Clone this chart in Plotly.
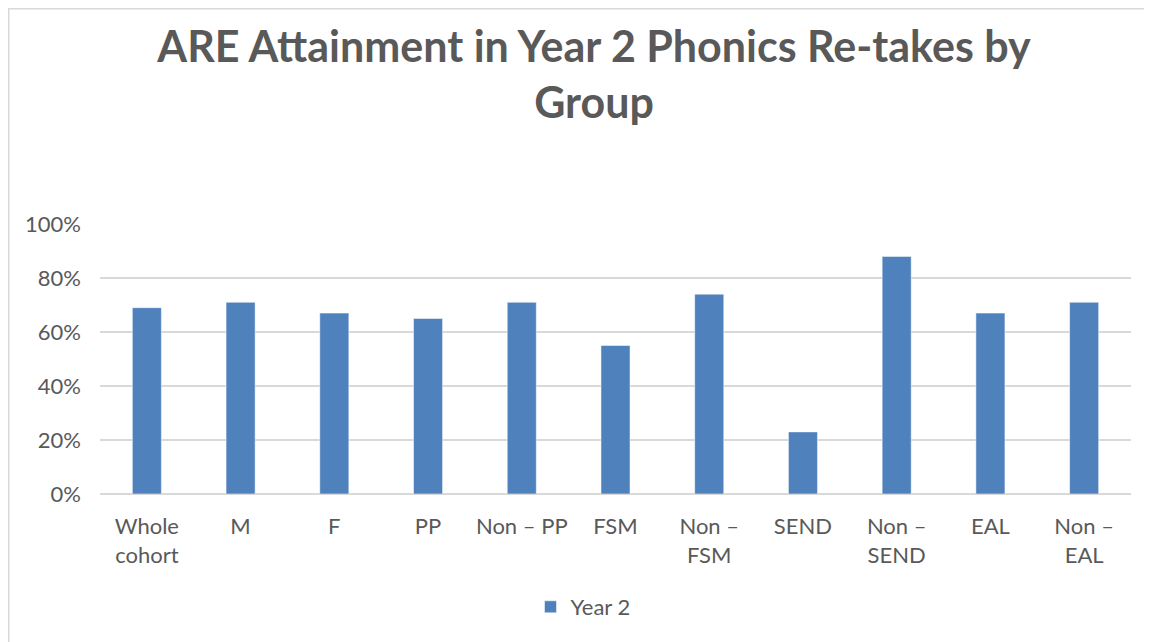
import plotly.graph_objects as go

categories = ["Whole<br>cohort", "M", "F", "PP", "Non – PP", "FSM", "Non –<br>FSM",
              "SEND", "Non –<br>SEND", "EAL", "Non –<br>EAL"]
year2 = [0.69, 0.71, 0.67, 0.65, 0.71, 0.55, 0.74, 0.23, 0.88, 0.67, 0.71]
y_ticks = [0, 0.2, 0.4, 0.6, 0.8, 1.0]
y_tick_labels = ["0%", "20%", "40%", "60%", "80%", "100%"]

W, H = 1152, 642
OFF = 8  # page body margin
L, R, T, B = 92, 29, 216, 156
pw, ph = W - L - R, H - T - B

def px_to_paper_x(x):
    return (x - OFF - L) / pw

def px_to_paper_y(y):
    return (H - B - (y - OFF)) / ph

font_family = "Lato, 'Open Sans', sans-serif"
grey = "#595959"

fig = go.Figure()
fig.add_trace(go.Bar(
    x=categories, y=year2, name="Year 2",
    marker=dict(color="#4f81bd", line=dict(color="#ffffff", width=0.5)),
))

fig.update_layout(
    width=W, height=H,
    margin=dict(l=L, r=R, t=T, b=B),
    paper_bgcolor="white", plot_bgcolor="white",
    font=dict(family=font_family, color=grey, size=22),
    title=dict(
        text="<b>ARE Attainment in Year 2 Phonics Re-takes by<br>Group</b>",
        x=(594 - OFF) / W, xanchor="center",
        xref="container", yref="container",
        y=1 - (62 - OFF) / H, yanchor="middle",
        font=dict(size=43, color=grey, family=font_family),
    ),
    bargap=0.69,
    showlegend=True,
    legend=dict(
        orientation="h", x=px_to_paper_x(583), xanchor="center", y=px_to_paper_y(607),
        yanchor="middle", font=dict(size=22, color=grey),
    ),
    xaxis=dict(
        showgrid=False, showline=False, ticks="", tickfont=dict(size=22, color=grey),
        ticklabelstandoff=17,
    ),
    yaxis=dict(
        range=[0, 1.0], tickvals=y_ticks, ticktext=y_tick_labels,
        showgrid=True, gridcolor="#d9d9d9", gridwidth=1.5, zeroline=True,
        zerolinecolor="#d9d9d9", zerolinewidth=1.5, showline=False,
        tickfont=dict(size=22, color=grey), ticks="", ticklabelstandoff=18,
    ),
    shapes=[dict(
        type="rect", xref="paper", yref="paper",
        x0=(0.75 - L) / pw, x1=(W + 20 - L) / pw,
        y0=-(B + 20) / ph, y1=1 + (T - 0.75) / ph,
        line=dict(color="#d9d9d9", width=1.5), fillcolor="rgba(0,0,0,0)", layer="below",
    )],
)

fig.write_html("out.html")
